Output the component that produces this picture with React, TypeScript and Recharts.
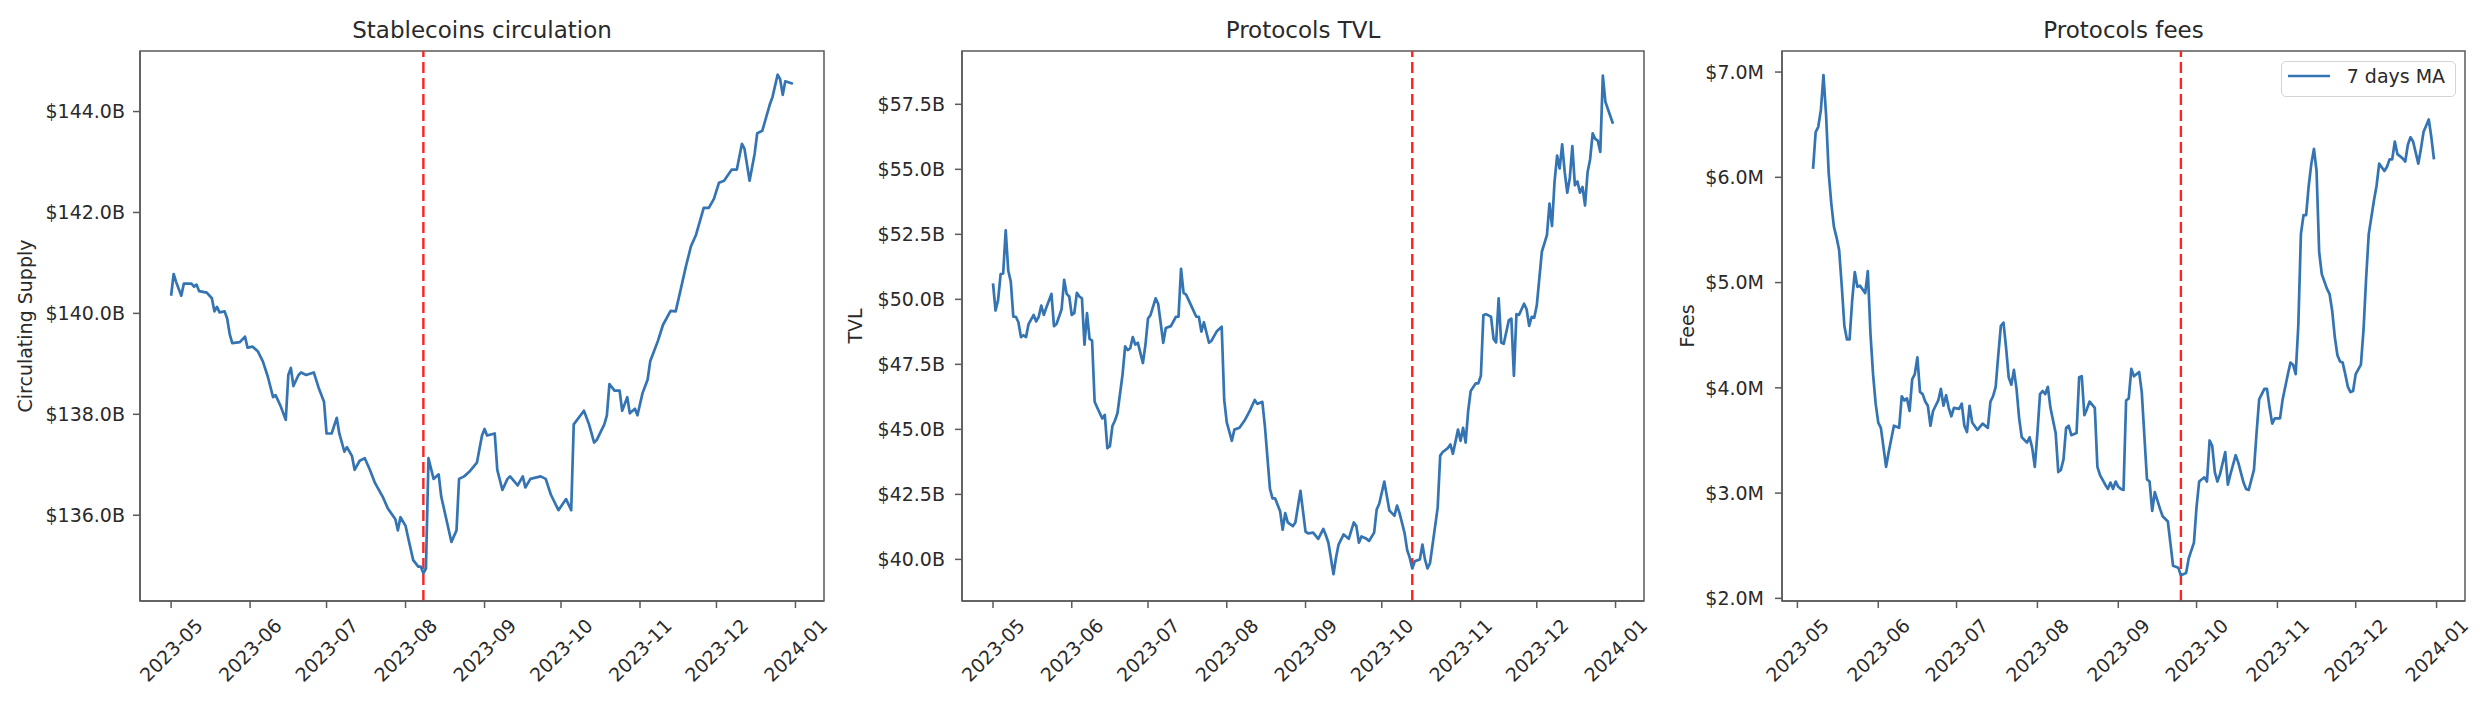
import React from 'react';
import { LineChart, Line, XAxis, YAxis, ReferenceLine, ReferenceArea, Legend } from 'recharts';

// ---- shared x categories (days since 2023-05-01) ----
const monthTicks = [0, 31, 61, 92, 123, 153, 184, 214, 245];
const monthLabels = ['2023-05', '2023-06', '2023-07', '2023-08', '2023-09', '2023-10', '2023-11', '2023-12', '2024-01'];

// ---- Stablecoins circulation ($B) ----
const stableDays = [0,1,2,4,5,8,9,10,11,14,16,17,18,19,21,22,23,24,27,29,30,32,34,36,38,40,41,43,45,46,47,48,50,51,53,56,58,60,61,63,65,66,68,69,71,72,74,76,78,80,83,85,88,89,90,92,93,95,97,98,99,100,101,103,105,106,108,110,112,113,115,117,120,122,123,124,127,128,130,132,133,136,138,139,141,145,147,149,152,155,157,158,162,164,166,167,170,171,172,174,176,177,179,180,182,183,185,187,188,191,193,196,198,200,202,204,206,209,211,213,215,217,220,222,224,225,227,229,230,232,235,236,238,239,240,241,244];
const stableValues = [140.35,140.78,140.62,140.35,140.59,140.59,140.53,140.57,140.44,140.41,140.30,140.04,140.13,140.02,140.04,139.90,139.59,139.41,139.43,139.54,139.32,139.34,139.25,139.05,138.74,138.34,138.38,138.16,137.89,138.78,138.92,138.56,138.78,138.83,138.78,138.83,138.51,138.25,137.62,137.62,137.93,137.62,137.26,137.35,137.17,136.90,137.08,137.13,136.90,136.64,136.37,136.14,135.92,135.70,135.96,135.79,135.56,135.11,134.98,134.98,134.85,134.94,137.13,136.72,136.81,136.37,135.92,135.47,135.70,136.72,136.77,136.86,137.04,137.58,137.71,137.58,137.62,136.90,136.50,136.72,136.77,136.59,136.77,136.55,136.72,136.77,136.72,136.41,136.10,136.32,136.10,137.80,138.07,137.80,137.44,137.49,137.80,137.98,138.60,138.47,138.47,138.07,138.34,138.02,138.11,137.98,138.42,138.69,139.05,139.45,139.77,140.05,140.04,140.48,140.93,141.33,141.56,142.09,142.09,142.27,142.59,142.63,142.85,142.85,143.36,143.26,142.63,143.17,143.57,143.62,144.15,144.29,144.73,144.64,144.33,144.60,144.55];
const stableTicks = [136, 138, 140, 142, 144];
const stableEventDay = 99;

// ---- Protocols TVL ($B) ----
const tvlDays = [0,1,2,3,4,5,6,7,8,9,10,11,12,13,14,16,17,18,19,20,21,23,24,25,27,28,29,30,31,32,33,34,35,36,37,38,39,40,41,43,44,45,46,47,48,49,51,52,53,54,55,56,57,59,60,61,62,64,65,67,68,70,72,73,74,75,76,78,80,81,82,83,85,86,88,90,91,92,94,95,97,99,101,103,104,106,107,109,110,111,113,114,115,116,118,119,121,122,123,124,126,128,130,131,132,134,135,136,138,140,142,143,144,145,147,148,150,151,152,154,156,157,158,159,160,162,163,164,165,166,168,169,170,171,172,175,176,177,179,180,181,183,184,185,186,187,188,190,191,192,193,194,196,197,198,199,200,201,203,204,205,206,207,209,210,211,212,213,214,216,218,219,220,221,222,223,224,225,226,227,228,229,230,231,232,233,234,235,236,237,238,239,240,241,243,244];
const tvlValues = [50.61,49.57,49.97,50.97,51.00,52.65,51.11,50.68,49.33,49.33,49.12,48.55,48.62,48.55,49.05,49.40,49.15,49.33,49.76,49.40,49.69,50.21,48.97,49.05,49.62,50.75,50.21,50.11,49.40,49.47,50.25,50.11,50.04,48.26,49.47,48.48,48.41,46.06,45.84,45.42,45.56,44.28,44.35,45.13,45.34,45.63,47.12,48.19,48.05,48.12,48.55,48.26,48.33,47.55,48.26,49.26,49.40,50.04,49.83,48.33,48.90,48.97,49.33,49.33,51.17,50.25,50.18,49.76,49.33,49.33,48.76,49.12,48.33,48.41,48.76,48.95,46.13,45.27,44.56,44.99,45.06,45.34,45.70,46.13,45.98,46.06,45.13,42.71,42.35,42.35,41.85,41.14,41.78,41.42,41.28,41.42,42.64,41.85,41.07,41.00,41.03,40.79,41.17,40.93,40.64,39.43,40.07,40.57,40.96,40.79,41.42,41.28,40.64,40.88,40.79,40.71,41.03,41.92,42.14,42.99,41.88,41.78,41.68,42.07,41.78,41.00,40.36,40.07,39.65,39.93,40.00,40.57,40.00,39.65,39.86,41.99,43.99,44.13,44.28,44.42,44.06,44.99,44.56,45.06,44.49,45.70,46.48,46.77,46.77,47.06,49.40,49.43,49.33,48.48,48.34,50.04,48.34,48.29,49.19,49.26,47.06,49.43,49.40,49.83,49.62,48.98,49.33,49.29,49.76,51.83,52.47,53.68,52.82,54.53,55.53,55.03,55.96,54.89,54.10,54.67,55.89,54.39,54.53,54.10,54.32,53.61,54.89,55.39,56.38,56.17,56.10,55.67,58.60,57.60,57.03,56.75];
const tvlTicks = [40, 42.5, 45, 47.5, 50, 52.5, 55, 57.5];
const tvlEventDay = 165;

// ---- Protocols fees, 7 days MA ($M) ----
const feesDays = [6,7,8,9,10,11,12,13,14,15,16,17,18,19,20,21,22,23,24,26,27,28,29,30,31,32,34,35,37,39,40,41,42,43,44,45,46,47,48,49,50,51,52,54,55,56,57,58,59,60,62,63,64,65,66,67,69,71,73,74,75,76,77,78,79,80,81,82,83,84,85,86,88,89,90,91,92,93,94,95,96,97,99,100,101,102,103,104,105,107,108,109,110,111,112,114,115,116,118,119,120,121,122,123,124,125,126,127,128,129,131,132,134,135,136,137,139,140,142,143,144,146,147,149,150,152,153,154,156,157,158,159,160,161,162,164,165,166,168,169,171,172,173,175,176,177,179,180,181,182,183,185,186,188,189,190,191,192,193,194,195,196,197,198,199,200,201,203,204,205,206,207,208,209,210,211,212,213,214,216,217,218,219,221,222,223,225,226,227,228,229,230,232,233,234,235,236,238,239,240,242,243,244];
const feesValues = [6.08,6.43,6.48,6.64,6.97,6.59,6.04,5.75,5.53,5.43,5.31,4.97,4.59,4.46,4.46,4.83,5.10,4.96,4.97,4.90,5.11,4.52,4.13,3.85,3.67,3.62,3.25,3.39,3.64,3.62,3.92,3.88,3.90,3.78,4.08,4.13,4.29,3.96,3.94,3.87,3.83,3.64,3.78,3.88,3.99,3.83,3.93,3.81,3.73,3.81,3.80,3.85,3.64,3.58,3.83,3.67,3.60,3.66,3.62,3.87,3.92,4.01,4.31,4.59,4.62,4.38,4.10,4.03,4.17,3.99,3.71,3.53,3.48,3.53,3.43,3.25,3.57,3.94,3.97,3.94,4.01,3.81,3.57,3.20,3.22,3.32,3.62,3.64,3.55,3.57,4.10,4.11,3.74,3.80,3.87,3.81,3.25,3.17,3.08,3.04,3.10,3.04,3.11,3.06,3.04,3.03,3.88,3.90,4.18,4.11,4.15,3.96,3.13,3.11,2.83,3.01,2.85,2.78,2.73,2.52,2.31,2.29,2.22,2.24,2.38,2.53,2.87,3.11,3.15,3.11,3.50,3.45,3.20,3.11,3.18,3.39,3.08,3.18,3.36,3.29,3.10,3.04,3.03,3.22,3.57,3.89,3.99,3.99,3.81,3.66,3.71,3.71,3.89,4.13,4.24,4.22,4.13,4.59,5.46,5.64,5.64,5.92,6.13,6.27,6.06,5.29,5.08,4.94,4.89,4.73,4.48,4.31,4.25,4.24,4.13,4.01,3.96,3.97,4.13,4.22,4.55,5.04,5.46,5.78,5.92,6.13,6.06,6.10,6.17,6.17,6.34,6.22,6.18,6.15,6.31,6.38,6.34,6.13,6.27,6.43,6.55,6.38,6.17];
const feesTicks = [2, 3, 4, 5, 6, 7];
const feesEventDay = 147;
const feesSeriesName = '7 days MA';

// ---- styling ----
const FONT = '"DejaVu Sans", Verdana, sans-serif';
const TEXT = '#2a2a2a';
const SPINE = '#5a5a5a';
const BLUE = '#3474b3';
const RED = '#f22';
const LINE_W = 2.7;

const toRows = (days: number[], values: number[]) => days.map((d, i) => ({ day: d, value: values[i] }));

const XTick = (props: any) => {
  const { x, y, payload } = props;
  const idx = monthTicks.indexOf(payload.value);
  const cy = y + 40;
  return (
    <text
      x={x}
      y={cy}
      transform={`rotate(-45 ${x} ${cy})`}
      textAnchor="middle"
      dominantBaseline="central"
      fontSize={19}
      fontFamily={FONT}
      fill={TEXT}
    >
      {idx >= 0 ? monthLabels[idx] : ''}
    </text>
  );
};

const LegendBox = (props: any) => {
  const { payload } = props;
  return (
    <div
      style={{
        boxSizing: 'border-box',
        width: 175,
        height: 36,
        border: '1px solid #d4d4d4',
        borderRadius: 5,
        background: 'rgba(255,255,255,0.85)',
        display: 'flex',
        alignItems: 'center',
        paddingBottom: 5,
        fontFamily: FONT,
        fontSize: 19,
        color: TEXT,
      }}
    >
      {(payload || []).map((p: any) => (
        <React.Fragment key={p.value}>
          <svg width={42} height={6} style={{ marginLeft: 6, display: 'block' }}>
            <line x1={0} y1={3} x2={42} y2={3} stroke={p.color} strokeWidth={LINE_W} />
          </svg>
          <span style={{ marginLeft: 17, lineHeight: '19px' }}>{p.value}</span>
        </React.Fragment>
      ))}
    </div>
  );
};

type PanelProps = {
  left: number;
  width: number;
  plotLeft: number;
  plotRight: number;
  title: string;
  yLabel: string;
  labelX: number;
  rows: { day: number; value: number }[];
  xDomain: [number, number];
  yDomain: [number, number];
  yTicks: number[];
  fmt: (v: number) => string;
  eventDay: number;
  yTickMargin: number;
  seriesName?: string;
  legendLeft?: number;
};

const Panel = (p: PanelProps) => {
  const yAxisWidth = p.plotLeft - p.left;
  const marginRight = p.left + p.width - p.plotRight;
  const center = (p.plotLeft + p.plotRight) / 2 - p.left;
  return (
    <div style={{ position: 'absolute', left: p.left, top: 0, width: p.width, height: 706 }}>
      <div
        style={{
          position: 'absolute',
          left: center - 250,
          width: 500,
          top: 18.5,
          textAlign: 'center',
          fontFamily: FONT,
          fontSize: 23,
          lineHeight: '23px',
          color: TEXT,
          zIndex: 2,
        }}
      >
        {p.title}
      </div>
      <LineChart
        width={p.width}
        height={706}
        data={p.rows}
        margin={{ top: 51, right: marginRight, bottom: 5, left: 0 }}
      >
        <XAxis
          dataKey="day"
          type="number"
          domain={p.xDomain}
          allowDataOverflow
          ticks={monthTicks}
          interval={0}
          height={100}
          tickSize={7}
          tick={<XTick />}
          axisLine={{ stroke: SPINE, strokeWidth: 1.5 }}
          tickLine={{ stroke: SPINE, strokeWidth: 1.5 }}
        />
        <YAxis
          type="number"
          domain={p.yDomain}
          allowDataOverflow
          ticks={p.yTicks}
          interval={0}
          width={yAxisWidth}
          tickSize={7}
          tickMargin={p.yTickMargin}
          tickFormatter={p.fmt}
          tick={{ fontSize: 19, fontFamily: FONT, fill: TEXT }}
          axisLine={{ stroke: SPINE, strokeWidth: 1.5 }}
          tickLine={{ stroke: SPINE, strokeWidth: 1.5 }}
          label={() => (
            <text
              x={p.labelX}
              y={326}
              transform={`rotate(-90 ${p.labelX} 326)`}
              textAnchor="middle"
              dominantBaseline="central"
              fontSize={19}
              fontFamily={FONT}
              fill={TEXT}
            >
              {p.yLabel}
            </text>
          )}
        />
        <ReferenceArea
          x1={p.xDomain[0]}
          x2={p.xDomain[1]}
          y1={p.yDomain[0]}
          y2={p.yDomain[1]}
          fill="none"
          fillOpacity={0}
          stroke={SPINE}
          strokeWidth={1.5}
          ifOverflow="visible"
        />
        <ReferenceLine x={p.eventDay} stroke={RED} strokeWidth={2.4} strokeDasharray="11 5" ifOverflow="visible" />
        <Line
          type="linear"
          dataKey="value"
          name={p.seriesName || p.yLabel}
          stroke={BLUE}
          strokeWidth={LINE_W}
          strokeLinejoin="round"
          dot={false}
          activeDot={false}
          isAnimationActive={false}
        />
        {p.seriesName && (
          <Legend
            layout="horizontal"
            verticalAlign="middle"
            align="center"
            content={<LegendBox />}
            wrapperStyle={{ top: 60.7, left: p.legendLeft, width: 175, height: 36 }}
          />
        )}
      </LineChart>
    </div>
  );
};

export default function App() {
  const fmtB = (v: number) => `$${v.toFixed(1)}B`;
  const fmtM = (v: number) => `$${v.toFixed(1)}M`;
  return (
    <div style={{ position: 'absolute', left: 0, top: 0, width: 2484, height: 706, background: '#fff', overflow: 'hidden' }}>
      <Panel
        left={0}
        width={830}
        plotLeft={140}
        plotRight={824}
        title="Stablecoins circulation"
        yLabel="Circulating Supply"
        labelX={24.5}
        rows={toRows(stableDays, stableValues)}
        xDomain={[-12.2, 256.2]}
        yDomain={[134.3, 145.2]}
        yTicks={stableTicks}
        fmt={fmtB}
        eventDay={stableEventDay}
        yTickMargin={8}
      />
      <Panel
        left={830}
        width={830}
        plotLeft={962}
        plotRight={1644}
        title="Protocols TVL"
        yLabel="TVL"
        labelX={25}
        rows={toRows(tvlDays, tvlValues)}
        xDomain={[-12.2, 256.2]}
        yDomain={[38.4, 59.55]}
        yTicks={tvlTicks}
        fmt={fmtB}
        eventDay={tvlEventDay}
        yTickMargin={10}
      />
      <Panel
        left={1660}
        width={824}
        plotLeft={1782}
        plotRight={2465}
        title="Protocols fees"
        yLabel="Fees"
        labelX={26.7}
        rows={toRows(feesDays, feesValues)}
        xDomain={[-5.9, 255.9]}
        yDomain={[1.975, 7.2]}
        yTicks={feesTicks}
        fmt={fmtM}
        eventDay={feesEventDay}
        yTickMargin={11}
        seriesName={feesSeriesName}
        legendLeft={2280.7 - 1660}
      />
    </div>
  );
}
